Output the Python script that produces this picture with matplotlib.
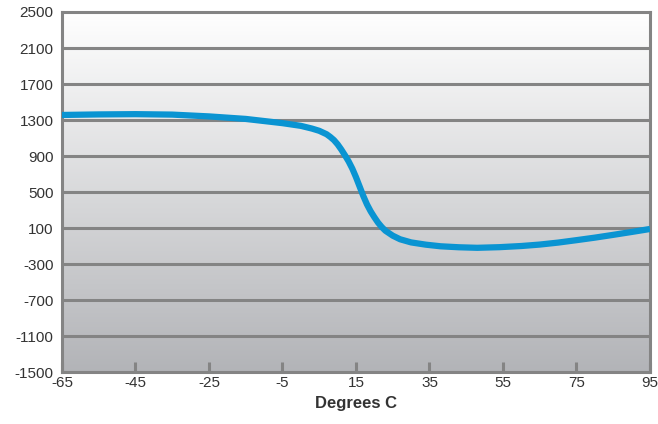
import numpy as np
import matplotlib.pyplot as plt

# values
temps = [-65, -55, -45, -35, -25, -15, -5, 0, 3, 5, 7, 8, 9, 10, 11, 12, 13, 14, 15, 16,
         17, 18, 19, 20, 21, 22, 23, 25, 27, 30, 34, 38, 43, 48, 54, 60, 65, 70, 75,
         80, 85, 90, 95]
values = [1356, 1362, 1365, 1360, 1340, 1312, 1265, 1235, 1205, 1180, 1142, 1112, 1077,
          1030, 972, 908, 840, 760, 665, 560, 455, 362, 285, 220, 160, 111, 70, 15, -25,
          -60, -85, -103, -114, -120, -113, -100, -84, -62, -35, -7, 24, 56, 89]
x_ticks = [-65, -45, -25, -5, 15, 35, 55, 75, 95]
y_ticks = [-1500, -1100, -700, -300, 100, 500, 900, 1300, 1700, 2100, 2500]

plt.rcParams['font.family'] = ['Liberation Sans', 'DejaVu Sans']
plt.rcParams['axes.unicode_minus'] = False

fig = plt.figure(figsize=(6.58, 4.24), dpi=100)
ax = fig.add_axes([0.0942, 0.1226, 0.8936, 0.8491])

# vertical gradient background
grad = np.linspace(0, 1, 256).reshape(-1, 1)
top = np.array([1.0, 1.0, 1.0])
bottom = np.array([0.70, 0.705, 0.72])
img = top + (bottom - top) * grad[:, :, None]
ax.imshow(img, extent=[-65, 95, -1500, 2500], aspect='auto', origin='upper', zorder=0)

ax.set_xlim(-65, 95)
ax.set_ylim(-1500, 2500)
ax.set_xticks(x_ticks)
ax.set_yticks(y_ticks)

for yv in y_ticks[1:-1]:
    ax.axhline(yv, color='#848484', lw=2.2, zorder=1)

ax.plot(temps, values, color='#0a94d2', lw=4.5, solid_capstyle='butt',
        solid_joinstyle='round', zorder=3)

for s in ax.spines.values():
    s.set_color('#848484')
    s.set_linewidth(2.2)

ax.tick_params(axis='x', direction='in', length=7, width=2.2, color='#848484',
               labelsize=11, labelcolor='#333333', pad=3)
ax.tick_params(axis='y', length=0, labelsize=11, labelcolor='#333333', pad=6)
ax.set_xlabel('Degrees C', fontsize=12, fontweight='bold', color='#333333', labelpad=4)

fig.savefig('out.png', dpi=100)
